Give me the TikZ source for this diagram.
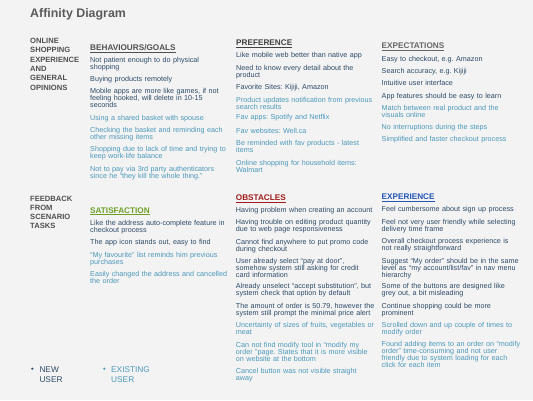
\documentclass[tikz,border=0pt]{standalone}
\usepackage{fontspec}
\setmainfont{Liberation Sans}
\definecolor{bggray}{RGB}{243, 243, 243}
\definecolor{newblue}{RGB}{44, 74, 104}
\definecolor{oldteal}{RGB}{74, 152, 186}
\definecolor{titlegray}{RGB}{90, 90, 90}
\definecolor{labelgray}{RGB}{80, 80, 80}
\definecolor{satgreen}{RGB}{110, 160, 40}
\definecolor{obsred}{RGB}{160, 25, 25}
\definecolor{expblue}{RGB}{35, 85, 180}
\usetikzlibrary{positioning}
\newcommand{\notefont}{\fontsize{7.2}{7}\selectfont\lineskiplimit=-5pt\frenchspacing}

\begin{document}
\begin{tikzpicture}[x=1pt, y=-1pt,
  note/.style={anchor=base west, inner sep=0pt, text width=150pt, align=left, font=\notefont},
  newnote/.style={note, text=newblue},
  oldnote/.style={note, text=oldteal},
  header/.style={anchor=base west, inner sep=0pt, font=\fontsize{8.2}{10}\selectfont\bfseries},
  group/.style={anchor=base west, inner sep=0pt, text width=60pt, align=left, font=\fontsize{7.6}{9.3}\selectfont\bfseries, text=labelgray},
  legenddot/.style={circle, fill, inner sep=0pt, minimum size=2.4pt},
  legend/.style={anchor=base west, inner sep=0pt, text width=40pt, align=left, font=\fontsize{8.3}{10}\selectfont}]
  \path[use as bounding box, fill=bggray] (0,0) rectangle (533,400);

  % Title
  \node[anchor=base west, inner sep=0pt, font=\fontsize{12.4}{14}\selectfont\bfseries, text=titlegray] (title) at (30,17) {Affinity Diagram};

  % Online shopping experience
  \node[group] (online) at (30,43.5) {ONLINE\\SHOPPING\\EXPERIENCE\\AND\\GENERAL\\OPINIONS};

  \node[header, text=labelgray] (behav) at (90,50.3) {\underline{BEHAVIOURS/GOALS}};
  \node[newnote] (behav1) at (90,62.3) {Not patient enough to do physical\\shopping};
  \node[newnote] (behav2) at (90,81.6) {Buying products remotely};
  \node[newnote] (behav3) at (90,93.3) {Mobile apps are more like games, if not\\feeling hooked, will delete in 10-15\\seconds};
  \node[oldnote] (behav4) at (90,120) {Using a shared basket with spouse};
  \node[oldnote] (behav5) at (90,132) {Checking the basket and reminding each\\other missing items};
  \node[oldnote] (behav6) at (90,151.3) {Shopping due to lack of time and trying to\\keep work-life balance};
  \node[oldnote] (behav7) at (90,171) {Not to pay via 3rd party authenticators\\since he “they kill the whole thing.”};

  \node[header, text=black!75] (pref) at (236,45.7) {\underline{PREFERENCE}};
  \node[newnote] (pref1) at (236,57.3) {Like mobile web better than native app};
  \node[newnote] (pref2) at (236,70) {Need to know every detail about the\\product};
  \node[newnote] (pref3) at (236,89.6) {Favorite Sites: Kijiji, Amazon};
  \node[oldnote] (pref4) at (236,102.3) {Product updates notification from previous\\search results};
  \node[oldnote] (pref5) at (236,119.6) {Fav apps: Spotify and Netflix};
  \node[oldnote] (pref6) at (236,133) {Fav websites: Well.ca};
  \node[oldnote] (pref7) at (236,145.6) {Be reminded with fav products - latest\\items};
  \node[oldnote] (pref8) at (236,165) {Online shopping for household items:\\Walmart};

  \node[header, text=black!60] (expect) at (381.5,48.7) {\underline{EXPECTATIONS}};
  \node[newnote] (expect1) at (381.5,61.6) {Easy to checkout, e.g. Amazon};
  \node[newnote] (expect2) at (381.5,73.3) {Search accuracy, e.g. Kijiji};
  \node[newnote] (expect3) at (381.5,85.6) {Intuitive user interface};
  \node[newnote] (expect4) at (381.5,98) {App features should be easy to learn};
  \node[oldnote] (expect5) at (381.5,110.6) {Match between real product and the\\visuals online};
  \node[oldnote] (expect6) at (381.5,129) {No interruptions during the steps};
  \node[oldnote] (expect7) at (381.5,141.6) {Simplified and faster checkout process};

  % Feedback from scenario tasks
  \node[group] (feedback) at (30,201) {FEEDBACK\\FROM\\SCENARIO\\TASKS};

  \node[header, text=satgreen] (satis) at (90,213) {\underline{SATISFACTION}};
  \node[newnote] (satis1) at (90,225) {Like the address auto-complete feature in\\checkout process};
  \node[newnote] (satis2) at (90,244.6) {The app icon stands out, easy to find};
  \node[oldnote] (satis3) at (90,257.3) {“My favourite” list reminds him previous\\purchases};
  \node[oldnote] (satis4) at (90,276.3) {Easily changed the address and cancelled\\the order};

  \node[header, text=obsred] (obst) at (235.7,200.3) {\underline{OBSTACLES}};
  \node[newnote] (obst1) at (235.7,212) {Having problem when creating an account};
  \node[newnote] (obst2) at (235.7,224) {Having trouble on editing product quantity\\due to web page responsiveness};
  \node[newnote] (obst3) at (235.7,244) {Cannot find anywhere to put promo code\\during checkout};
  \node[newnote] (obst4) at (235.7,263.3) {User already select “pay at door”,\\somehow system still asking for credit\\card information};
  \node[newnote] (obst5) at (235.7,288.3) {Already unselect “accept substitution”, but\\system check that option by default};
  \node[newnote] (obst6) at (235.7,308) {The amount of order is 50.79, however the\\system still prompt the minimal price alert};
  \node[oldnote] (obst7) at (235.7,327.6) {Uncertainty of sizes of fruits, vegetables or\\meat};
  \node[oldnote] (obst8) at (235.7,347.3) {Can not find modify tool in “modify my\\order ”page. States that it is more visible\\on website at the bottom};
  \node[oldnote] (obst9) at (235.7,373.3) {Cancel button was not visible straight\\away};

  \node[header, text=expblue] (exper) at (381.5,199.7) {\underline{EXPERIENCE}};
  \node[newnote] (exper1) at (381.5,211.6) {Feel cumbersome about sign up process};
  \node[newnote] (exper2) at (381.5,224.6) {Feel not very user friendly while selecting\\delivery time frame};
  \node[newnote] (exper3) at (381.5,243.6) {Overall checkout process experience is\\not really straightforward};
  \node[newnote] (exper4) at (381.5,263.3) {Suggest “My order” should be in the same\\level as “my account/list/fav” in nav menu\\hierarchy};
  \node[newnote] (exper5) at (381.5,288) {Some of the buttons are designed like\\grey out, a bit misleading};
  \node[newnote] (exper6) at (381.5,308) {Continue shopping could be more\\prominent};
  \node[oldnote] (exper7) at (381.5,327.3) {Scrolled down and up couple of times to\\modify order};
  \node[oldnote] (exper8) at (381.5,346.6) {Found adding items to an order on “modify\\order” time-consuming and not user\\friendly due to system loading for each\\click for each item};

  % Legend
  \node[legenddot, newblue] (newdot) at (32.3,368.7) {};
  \node[legend, text=newblue] (newuser) at (39.3,372.3) {NEW\\USER};
  \node[legenddot, oldteal] (olddot) at (104.3,368.7) {};
  \node[legend, text=oldteal] (olduser) at (111,372.3) {EXISTING\\USER};
\end{tikzpicture}
\end{document}
